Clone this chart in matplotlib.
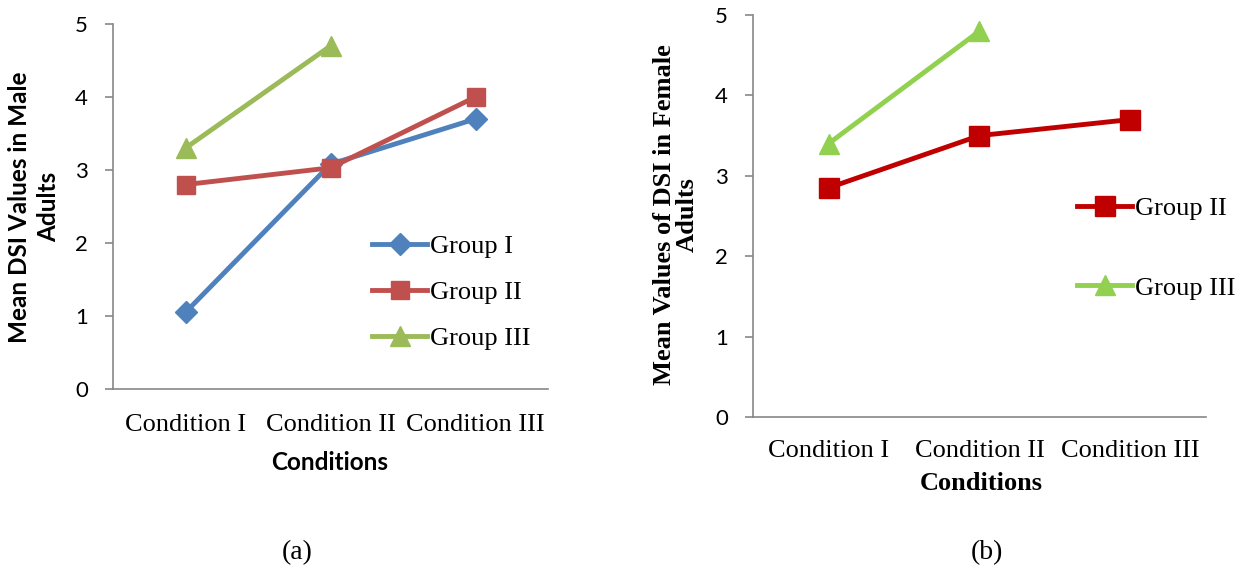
import matplotlib
matplotlib.use("Agg")
import matplotlib.pyplot as plt
from matplotlib.lines import Line2D

conditions = ["Condition I", "Condition II", "Condition III"]
y_ticks = [0, 1, 2, 3, 4, 5]

# Male adults
male_group1 = [1.05, 3.08, 3.70]
male_group2 = [2.80, 3.03, 4.00]
male_group3 = [3.30, 4.70]

# Female adults
female_group2 = [2.85, 3.50, 3.70]
female_group3 = [3.40, 4.80]

SERIF = "Liberation Serif"
SANS = "Lato"
AXIS_GREY = "#878787"
LW = 3.5

fig = plt.figure(figsize=(12.47, 5.76), dpi=100)
W, H = 1247, 576


def px_axes(x0, x1, y0, y1):
    return fig.add_axes([x0 / W, 1 - y1 / H, (x1 - x0) / W, (y1 - y0) / H])


def style_axes(ax, xpad):
    ax.set_xlim(-0.5, 2.5)
    ax.set_ylim(0, 5)
    ax.set_yticks(y_ticks)
    ax.set_yticklabels([str(t) for t in y_ticks], fontfamily=SANS, fontsize=16)
    ax.set_xticks(range(len(conditions)))
    ax.set_xticklabels(conditions, fontfamily=SERIF, fontsize=19)
    for side in ("top", "right"):
        ax.spines[side].set_visible(False)
    for side in ("left", "bottom"):
        ax.spines[side].set_color(AXIS_GREY)
        ax.spines[side].set_linewidth(1.2)
    ax.tick_params(axis="y", direction="out", length=6, width=1.2, color=AXIS_GREY, pad=12)
    ax.tick_params(axis="x", length=0, pad=xpad)
    ax.set_facecolor("none")


def add_legend(ax, handles, labels, x, y, spacing):
    ax.legend(handles, labels, loc="center left", bbox_to_anchor=(x, y),
              frameon=False, handlelength=2.1, handletextpad=0.1,
              borderaxespad=0, borderpad=0, labelspacing=spacing,
              prop={"family": SERIF, "size": 19})


# Panel (a)
ax1 = px_axes(113, 548, 24, 389)
style_axes(ax1, 18)
c_blue, c_red, c_green = "#4F81BD", "#C0504D", "#9BBB59"
ax1.plot(range(3), male_group1, color=c_blue, lw=LW, marker="D", ms=11, zorder=3)
ax1.plot(range(3), male_group2, color=c_red, lw=LW, marker="s", ms=13, zorder=4)
ax1.plot(range(2), male_group3, color=c_green, lw=LW, marker="^", ms=14, zorder=3)
handles1 = [
    Line2D([], [], color=c_blue, lw=LW, marker="D", ms=11),
    Line2D([], [], color=c_red, lw=LW, marker="s", ms=13),
    Line2D([], [], color=c_green, lw=LW, marker="^", ms=14),
]
add_legend(ax1, handles1, ["Group I", "Group II", "Group III"], 0.595, 0.265, 0.85)
fig.text(34 / W, 1 - 207 / H, "Mean DSI Values in Male\nAdults", rotation=90,
         ha="center", va="center", fontfamily=SANS, fontweight="bold", fontsize=17.5,
         linespacing=1.35)
fig.text(330 / W, 1 - 462 / H, "Conditions", ha="center", va="center",
         fontfamily=SANS, fontweight="bold", fontsize=17.5)
fig.text(297 / W, 1 - 553 / H, "(a)", ha="center", va="center",
         fontfamily=SERIF, fontsize=20)

# Panel (b)
ax2 = px_axes(753, 1206, 15, 417)
style_axes(ax2, 16.5)
c_dred, c_lgreen = "#C00000", "#92D050"
ax2.plot(range(3), female_group2, color=c_dred, lw=LW, marker="s", ms=14, zorder=4)
ax2.plot(range(2), female_group3, color=c_lgreen, lw=LW, marker="^", ms=15, zorder=3)
handles2 = [
    Line2D([], [], color=c_dred, lw=LW, marker="s", ms=14),
    Line2D([], [], color=c_lgreen, lw=LW, marker="^", ms=15),
]
add_legend(ax2, handles2, ["Group II", "Group III"], 0.715, 0.42, 2.12)
fig.text(676 / W, 1 - 215 / H, "Mean Values of DSI in Female\nAdults", rotation=90,
         ha="center", va="center", fontfamily=SERIF, fontweight="bold", fontsize=19,
         linespacing=0.95)
fig.text(981 / W, 1 - 483 / H, "Conditions", ha="center", va="center",
         fontfamily=SERIF, fontweight="bold", fontsize=19)
fig.text(987 / W, 1 - 553 / H, "(b)", ha="center", va="center",
         fontfamily=SERIF, fontsize=20)

fig.savefig("out.png", dpi=100, facecolor="white")
